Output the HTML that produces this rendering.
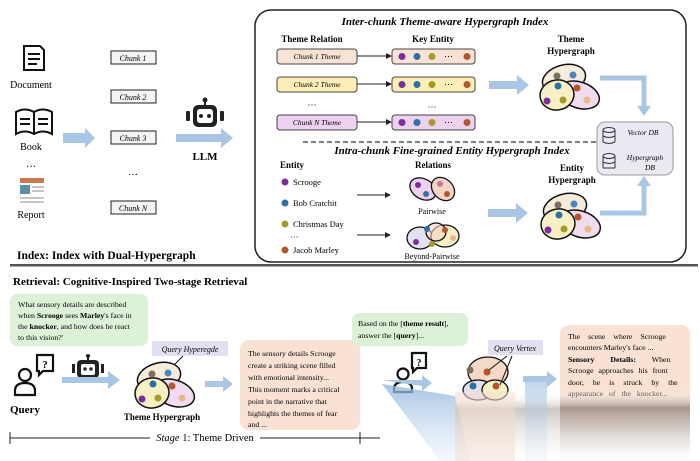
<!DOCTYPE html>
<html><head><meta charset="utf-8"><style>
html,body{margin:0;padding:0;background:#fff;}
svg{display:block;font-family:"Liberation Serif",serif;}
</style></head><body>
<svg width="700" height="461" viewBox="0 0 700 461" xmlns="http://www.w3.org/2000/svg">
<defs>
<marker id="ah" markerWidth="6" markerHeight="6" refX="5" refY="3" orient="auto"><path d="M0,0 L6,3 L0,6 Z" fill="#222"/></marker>
<g id="hg">
 <ellipse cx="-3" cy="-9" rx="22" ry="14" transform="rotate(-15 -3 -9)" fill="#f6ecdc" stroke="#111" stroke-width="1.5"/>
 <ellipse cx="12" cy="7" rx="21" ry="13" transform="rotate(18 12 7)" fill="#f0dcee" stroke="#111" stroke-width="1.5"/>
 <ellipse cx="-10" cy="7" rx="17" ry="15" transform="rotate(-10 -10 7)" fill="#f7f0c4" stroke="#111" stroke-width="1.5"/>
 <circle cx="-10" cy="-12" r="3.5" fill="#7b7060"/><circle cx="6" cy="-13" r="3.5" fill="#4a86c0"/>
 <circle cx="-9" cy="-2" r="3.5" fill="#2f6fa8"/><circle cx="10" cy="0" r="3.5" fill="#b5552f"/>
 <circle cx="-20" cy="13" r="3.5" fill="#7a2e9e"/><circle cx="-4" cy="12" r="3.5" fill="#a69a2a"/>
 <circle cx="20" cy="12" r="3.5" fill="#e6b98a"/>
</g>
<g id="kb"><circle cx="0" cy="0" r="3.5" fill="#7a2e9e"/><circle cx="15" cy="0" r="3.5" fill="#2f6fa8"/><circle cx="30" cy="0" r="3.5" fill="#a69a2a"/><text x="42" y="3" font-size="9">···</text><circle cx="65" cy="0" r="3.5" fill="#b5552f"/></g>
<linearGradient id="smear" x1="0" y1="0" x2="0" y2="1"><stop offset="0" stop-color="#fff" stop-opacity="0"/><stop offset="0.25" stop-color="#9c8f86" stop-opacity="0.9"/><stop offset="1" stop-color="#fff" stop-opacity="0.2"/></linearGradient>
<linearGradient id="bsm" x1="0" y1="0" x2="0" y2="1"><stop offset="0" stop-color="#8fb4dc"/><stop offset="1" stop-color="#dce9f5" stop-opacity="0.4"/></linearGradient>
</defs>

<g stroke="#111" stroke-width="2" fill="none">
 <path d="M24,46 h16 l4,4 v20 h-20 z"/><path d="M28,54 h12 M28,59 h12 M28,64 h9"/>
 <path d="M16,112 q9,-5 18,0 q9,-5 18,0 v22 q-9,-5 -18,0 q-9,-5 -18,0 z M34,112 v22"/>
 <path d="M20,119 h10 M20,124 h10 M38,119 h10 M38,124 h10"/>
</g>
<text x="31" y="88" font-size="10" text-anchor="middle">Document</text>
<text x="31" y="150" font-size="10" text-anchor="middle">Book</text>
<text x="31" y="170" font-size="10" text-anchor="middle">···</text>
<rect x="20" y="178" width="24" height="5" fill="#c97b4f"/><rect x="20" y="185" width="10" height="9" fill="#5a8fa8"/>
<g stroke="#888" stroke-width="1"><path d="M32,187 h12 M32,191 h12 M20,198 h24 M20,202 h24"/></g>
<text x="31" y="218" font-size="10" text-anchor="middle">Report</text>
<path d="M63,133 h22 v-5 l10,10 l-10,10 v-5 h-22 z" fill="#a9c6e4"/>
<g font-size="8" font-style="italic" text-anchor="middle">
 <rect x="111" y="51" width="45" height="13" fill="#f3f3f3" stroke="#222"/><text x="133" y="61">Chunk 1</text>
 <rect x="111" y="90" width="45" height="13" fill="#f3f3f3" stroke="#222"/><text x="133" y="100">Chunk 2</text>
 <rect x="111" y="131" width="45" height="13" fill="#f3f3f3" stroke="#222"/><text x="133" y="141">Chunk 3</text>
 <text x="133" y="178" font-style="normal" font-size="10">···</text>
 <rect x="111" y="201" width="45" height="13" fill="#f3f3f3" stroke="#222"/><text x="133" y="211">Chunk N</text>
</g>
<g><circle cx="205" cy="100" r="2.5" fill="#222"/><rect x="204" y="100" width="2" height="5" fill="#222"/>
<rect x="193" y="105" width="24" height="22" rx="5" fill="#222"/><rect x="197" y="109" width="16" height="14" rx="3" fill="#fff"/>
<circle cx="201" cy="116" r="2" fill="#222"/><circle cx="209" cy="116" r="2" fill="#222"/>
<rect x="186" y="111" width="4" height="10" rx="1" fill="#222"/><rect x="220" y="111" width="4" height="10" rx="1" fill="#222"/></g>
<path d="M176,134 h45 v-6 l12,10 l-12,10 v-6 h-45 z" fill="#a9c6e4"/>
<text x="205" y="160" font-size="11" font-weight="bold" text-anchor="middle">LLM</text>

<rect x="255" y="10" width="431" height="252" rx="16" fill="#fff" stroke="#222" stroke-width="1.5"/>
<text x="445" y="25" font-size="11" font-weight="bold" font-style="italic" text-anchor="middle">Inter-chunk Theme-aware Hypergraph Index</text>
<text x="312" y="42" font-size="9" font-weight="bold" text-anchor="middle">Theme Relation</text>
<text x="433" y="42" font-size="9" font-weight="bold" text-anchor="middle">Key Entity</text>
<g font-size="7.5" font-style="italic" text-anchor="middle">
<rect x="277" y="49" width="80" height="15" rx="3" fill="#f6e3d5" stroke="#444"/><text x="317" y="59">Chunk 1 Theme</text>
<rect x="277" y="77" width="80" height="15" rx="3" fill="#fbeeb6" stroke="#444"/><text x="317" y="87">Chunk 2 Theme</text>
<rect x="277" y="115" width="80" height="15" rx="3" fill="#ecd2ee" stroke="#444"/><text x="317" y="125">Chunk N Theme</text>
</g>
<text x="312" y="108" font-size="9" text-anchor="middle">···</text>
<text x="432" y="110" font-size="9" text-anchor="middle">···</text>
<g stroke="#222" stroke-width="1" marker-end="url(#ah)"><path d="M357,56 h34"/><path d="M357,84 h34"/><path d="M357,122 h34"/></g>
<rect x="392" y="49" width="83" height="15" rx="3" fill="#f6e3d5" stroke="#444"/><use href="#kb" x="402" y="56.5"/>
<rect x="392" y="77" width="83" height="15" rx="3" fill="#fbeeb6" stroke="#444"/><use href="#kb" x="402" y="84.5"/>
<rect x="392" y="115" width="83" height="15" rx="3" fill="#ecd2ee" stroke="#444"/><use href="#kb" x="402" y="122.5"/>
<path d="M489,81 h28 v-6 l12,10 l-12,10 v-6 h-28 z" fill="#a9c6e4"/>
<text x="571" y="42" font-size="9" font-weight="bold" text-anchor="middle">Theme</text>
<text x="571" y="54" font-size="9" font-weight="bold" text-anchor="middle">Hypergraph</text>
<use href="#hg" x="567" y="88"/>
<path d="M600,78 h44 v30" fill="none" stroke="#a9c6e4" stroke-width="5"/><path d="M637,106 h14 l-7,10 z" fill="#a9c6e4"/>
<rect x="597" y="122" width="76" height="53" rx="8" fill="#ece9f3" stroke="#999"/>
<g stroke="#333" fill="none" stroke-width="1"><ellipse cx="609" cy="130" rx="6" ry="2.5"/><path d="M603,130 v12 M615,130 v12 M603,136 q6,3 12,0 M603,142 q6,3 12,0"/>
<ellipse cx="609" cy="156" rx="6" ry="2.5"/><path d="M603,156 v12 M615,156 v12 M603,162 q6,3 12,0 M603,168 h12"/></g>
<g font-size="7.5" font-style="italic" text-anchor="middle"><text x="643" y="135">Vector DB</text><text x="645" y="160">Hypergraph</text><text x="650" y="170">DB</text></g>
<path d="M303,142 h294" stroke="#333" stroke-dasharray="5,3" stroke-width="1.2"/>
<text x="452" y="154" font-size="11" font-weight="bold" font-style="italic" text-anchor="middle">Intra-chunk Fine-grained Entity Hypergraph Index</text>
<text x="280" y="168" font-size="9" font-weight="bold">Entity</text>
<text x="433" y="168" font-size="9" font-weight="bold" text-anchor="middle">Relations</text>
<g font-size="8.5"><circle cx="285" cy="182" r="3.5" fill="#7a2e9e"/><text x="293" y="185">Scrooge</text>
<circle cx="285" cy="203" r="3.5" fill="#2f6fa8"/><text x="293" y="206">Bob Cratchit</text>
<circle cx="285" cy="224" r="3.5" fill="#a69a2a"/><text x="293" y="227">Christmas Day</text>
<text x="290" y="240">···</text>
<circle cx="285" cy="250" r="3.5" fill="#b5552f"/><text x="293" y="253">Jacob Marley</text></g>
<g stroke="#222" stroke-width="1" marker-end="url(#ah)"><path d="M357,195 h33"/><path d="M357,235 h33"/></g>
<g stroke="#111" stroke-width="1.3"><ellipse cx="423" cy="189" rx="14" ry="10" transform="rotate(30 423 189)" fill="#ecd2ee"/><ellipse cx="443" cy="189" rx="13" ry="10" transform="rotate(45 443 189)" fill="#f3d5c6"/>
<ellipse cx="420" cy="238" rx="13" ry="11" fill="#e5e0f0"/><ellipse cx="445" cy="236" rx="14" ry="11" fill="#f7f0c4"/><ellipse cx="436" cy="232" rx="10" ry="9" fill="#f3d5c6" fill-opacity="0.6"/></g>
<circle cx="418" cy="185" r="3" fill="#7a2e9e"/><circle cx="426" cy="194" r="3" fill="#2f6fa8"/><circle cx="440" cy="184" r="3" fill="#c9769a"/><circle cx="447" cy="194" r="3" fill="#b5552f"/>
<circle cx="427" cy="229" r="3" fill="#2f6fa8"/><circle cx="416" cy="242" r="3" fill="#7a2e9e"/><circle cx="445" cy="230" r="3" fill="#b5552f"/><circle cx="453" cy="238" r="3" fill="#e6b98a"/><circle cx="432" cy="244" r="3" fill="#a69a2a"/>
<text x="432" y="214" font-size="8" text-anchor="middle">Pairwise</text>
<text x="432" y="259" font-size="8" text-anchor="middle">Beyond-Pairwise</text>
<path d="M488,209 h28 v-6 l12,10 l-12,10 v-6 h-28 z" fill="#a9c6e4"/>
<text x="572" y="171" font-size="9" font-weight="bold" text-anchor="middle">Entity</text>
<text x="572" y="183" font-size="9" font-weight="bold" text-anchor="middle">Hypergraph</text>
<use href="#hg" x="568" y="217"/>
<path d="M600,213 h44 v-30" fill="none" stroke="#a9c6e4" stroke-width="5"/><path d="M637,186 h14 l-7,-10 z" fill="#a9c6e4"/>
<text x="17" y="259" font-size="11.5" font-weight="bold">Index:  Index with Dual-Hypergraph</text>
<rect x="10" y="264" width="688" height="2.5" fill="#555"/>

<text x="13" y="285" font-size="11" font-weight="bold">Retrieval:  Cognitive-Inspired Two-stage Retrieval</text>
<rect x="10" y="294" width="138" height="52" rx="7" fill="#ddf0d8"/>
<g font-size="7.8"><text x="18" y="307">What sensory details are described</text>
<text x="18" y="318">when <tspan font-weight="bold">Scrooge</tspan> sees <tspan font-weight="bold">Marley</tspan>'s face in</text>
<text x="18" y="329">the <tspan font-weight="bold">knocker</tspan>, and how does he react</text>
<text x="18" y="340">to this vision?'</text></g>
<g stroke="#111" stroke-width="2.2" fill="none"><circle cx="25" cy="375" r="6"/><path d="M15,395 v-4 q0,-8 10,-8 q10,0 10,8 v4 z"/>
<path d="M37,355 h16 v16 h-10 l-4,4 v-4 h-2 z"/></g>
<text x="45" y="368" font-size="11" font-weight="bold" text-anchor="middle">?</text>
<text x="10" y="413" font-size="11" font-weight="bold">Query</text>
<g><circle cx="88" cy="356" r="2" fill="#222"/><rect x="87" y="356" width="2" height="4" fill="#222"/>
<rect x="77" y="360" width="22" height="18" rx="4" fill="#222"/><rect x="81" y="364" width="14" height="11" rx="2" fill="#fff"/>
<circle cx="85" cy="369" r="1.7" fill="#222"/><circle cx="91" cy="369" r="1.7" fill="#222"/>
<rect x="72" y="364" width="3" height="9" fill="#222"/><rect x="101" y="364" width="3" height="9" fill="#222"/></g>
<path d="M62,377 h46 v-6 l12,9 l-12,9 v-6 h-46 z" fill="#a9c6e4"/>
<rect x="152" y="341" width="76" height="15" fill="#e3dff0"/><text x="190" y="352" font-size="8" font-style="italic" text-anchor="middle">Query Hyperegde</text>
<path d="M183,356 l-10,10" stroke="#111"/>
<use href="#hg" x="162" y="386"/>
<text x="162" y="420" font-size="9" font-weight="bold" text-anchor="middle">Theme Hypergraph</text>
<path d="M205,381 h18 v-5 l10,8 l-10,8 v-5 h-18 z" fill="#a9c6e4"/>
<rect x="240" y="340" width="120" height="90" rx="9" fill="#f9e1d3"/>
<g font-size="7.8"><text x="248" y="356">The sensory details Scrooge</text><text x="248" y="368">create a striking scene filled</text>
<text x="248" y="380">with emotional intensity...</text><text x="248" y="392">This moment marks a critical</text>
<text x="248" y="404">point in the narrative that</text><text x="248" y="416">highlights the themes of fear</text><text x="248" y="427">and ...</text></g>
<path d="M10,438 h140 M260,438 h120" stroke="#222"/><path d="M10,432 v12 M360,432 v12" stroke="#222"/>
<text x="205" y="441" font-size="10.5" text-anchor="middle"><tspan font-style="italic">Stage</tspan> 1:  Theme Driven</text>
<rect x="352" y="313" width="116" height="33" rx="7" fill="#ddf0d8"/>
<g font-size="7.8"><text x="358" y="326">Based on the [<tspan font-weight="bold">theme result</tspan>],</text><text x="358" y="338">answer the [<tspan font-weight="bold">query</tspan>]...</text></g>
<g stroke="#111" stroke-width="2.2" fill="none"><circle cx="403" cy="374" r="5.5"/><path d="M394,392 v-3 q0,-7 9,-7 q9,0 9,7 v3 z"/>
<path d="M412,353 h14 v15 h-9 l-4,4 v-4 h-1 z"/></g>
<text x="419" y="366" font-size="10" font-weight="bold" text-anchor="middle">?</text>
<path d="M382,384 L455,396 L470,461 L440,461 Z" fill="url(#bsm)" opacity="0.8"/>
<path d="M382,380 h40 v-5 l10,8 l-10,8 v-5 z" fill="#a9c6e4"/>
<rect x="488" y="340" width="55" height="15" fill="#e3dff0"/><text x="515" y="351" font-size="8" font-style="italic" text-anchor="middle">Query Vertex</text>
<g stroke="#111" stroke-width="1.3"><ellipse cx="488" cy="372" rx="20" ry="15" fill="#f5d9c8"/><ellipse cx="478" cy="390" rx="15" ry="10" fill="#e5e0f0"/><ellipse cx="495" cy="390" rx="13" ry="10" fill="#f7f0c4"/></g>
<circle cx="470" cy="370" r="3.5" fill="#7b7060"/><circle cx="487" cy="372" r="3.5" fill="#b5552f"/><circle cx="473" cy="386" r="3.5" fill="#2f6fa8"/><circle cx="496" cy="386" r="3.5" fill="#b5552f"/>
<path d="M489,370 L507,356 M500,385 L512,356" stroke="#111"/>
<rect x="455" y="392" width="235" height="69" fill="url(#smear)" opacity="0.55"/>
<rect x="455" y="392" width="60" height="69" fill="#f3ddd0" opacity="0.5"/>
<rect x="525" y="376" width="22" height="85" fill="url(#bsm)" opacity="0.6"/>
<path d="M523,376 h24 v-5 l10,8 l-10,8 v-5 h-24 z" fill="#a9c6e4"/>
<rect x="560" y="325" width="130" height="100" rx="9" fill="#f9e1d3"/>
<rect x="560" y="390" width="130" height="71" fill="url(#smear)"/>
<g font-size="7.8"><text x="568" y="339" word-spacing="6">The scene where Scrooge</text><text x="568" y="350">encounters Marley's face ...</text>
<text x="568" y="362" word-spacing="14"><tspan font-weight="bold">Sensory Details:</tspan> When</text><text x="568" y="373" word-spacing="3">Scrooge approaches his front</text>
<text x="568" y="385" word-spacing="7">door, he is struck by the</text><text x="568" y="396" word-spacing="4" opacity="0.6">appearance of the knocker...</text></g>
</svg>
</body></html>
